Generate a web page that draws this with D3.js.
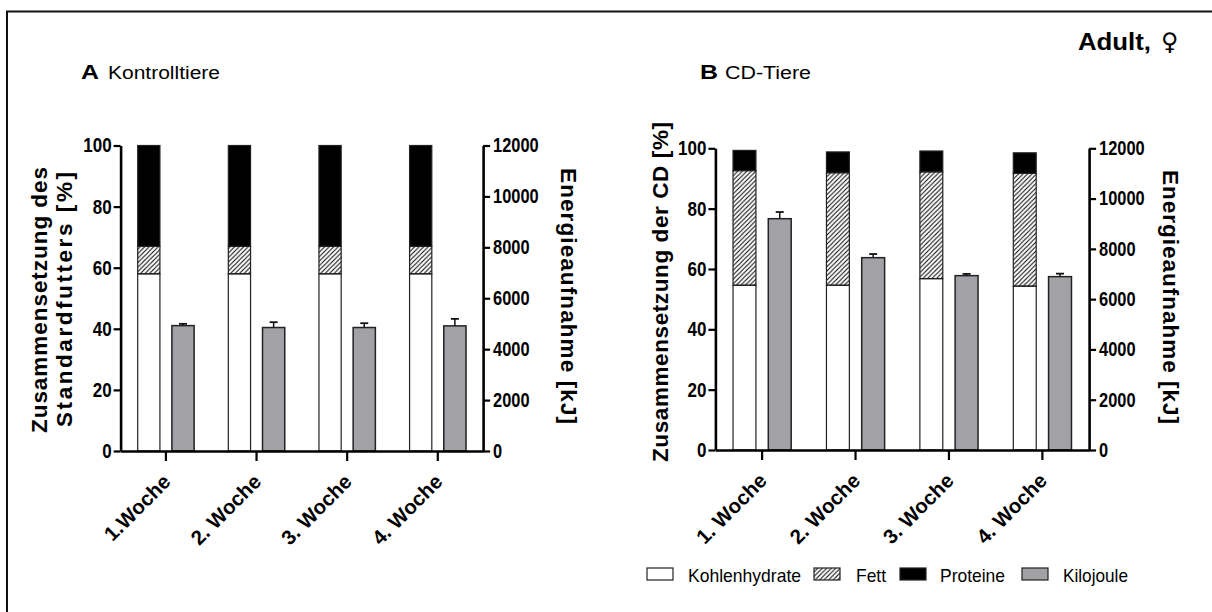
<!DOCTYPE html>
<html>
<head>
<meta charset="utf-8">
<script src="https://cdn.jsdelivr.net/npm/d3@7"></script>
<style>
  body { margin: 0; background: #fff; }
  text { font-family: "Liberation Sans", Arial, sans-serif; fill: #000; }
</style>
</head>
<body>
<svg id="chart" width="1212" height="612"></svg>
<script>
// ---- data ----
const weeksA = ["1.Woche", "2. Woche", "3. Woche", "4. Woche"];
const weeksB = ["1. Woche", "2. Woche", "3. Woche", "4. Woche"];

// diet composition [% of energy]
const carbsA   = [58, 58, 58, 58];
const fatA     = [9, 9, 9, 9];
const proteinA = [33, 33, 33, 33];
const carbsB   = [54.6, 54.6, 56.8, 54.3];
const fatB     = [38.0, 37.3, 35.4, 37.4];
const proteinB = [6.7, 6.9, 6.9, 6.8];

// energy intake [kJ], mean and SEM
const kjA    = [4925, 4850, 4850, 4915];
const kjErrA = [70, 210, 170, 275];
const kjB    = [9200, 7650, 6935, 6895];
const kjErrB = [265, 145, 70, 120];

const pctTicks = [0, 20, 40, 60, 80, 100];
const kjTicks  = [0, 2000, 4000, 6000, 8000, 10000, 12000];
const legendLabels = ["Kohlenhydrate", "Fett", "Proteine", "Kilojoule"];

// ---- drawing ----
const svg = d3.select("#chart");
const KJ_FILL = "#a2a2a6";

// diagonal hatching for the fat segment
const defs = svg.append("defs");
defs.append("pattern")
  .attr("id", "hatch")
  .attr("patternUnits", "userSpaceOnUse")
  .attr("width", 4.5).attr("height", 4.5)
  .append("path")
  .attr("d", "M-1,1 l2,-2 M0,4.5 l4.5,-4.5 M3.5,5.5 l2,-2")
  .attr("stroke", "#000").attr("stroke-width", 1);

// outer frame (top and left edge)
svg.append("path")
  .attr("d", "M7,612 V11.5 H1212")
  .attr("fill", "none").attr("stroke", "#111").attr("stroke-width", 2);

function fitText(sel, len, mode) {
  sel.attr("textLength", len).attr("lengthAdjust", mode || "spacingAndGlyphs");
}
function condense(sel, k) {
  sel.each(function () {
    const L = this.getComputedTextLength();
    this.setAttribute("textLength", L * k);
    this.setAttribute("lengthAdjust", "spacingAndGlyphs");
  });
}

function drawPanel(cfg, weeks, carbs, fat, protein, kj, kjErr) {
  const g = svg.append("g");
  const x = d3.scaleBand().domain(weeks).range([cfg.x0, cfg.x1]).padding(0);
  const sub = d3.scaleBand().domain(["comp", "kj"]).range([0, x.bandwidth()])
    .paddingInner(0.35).paddingOuter(0.5);
  const yPct = d3.scaleLinear().domain([0, 100]).range([cfg.yb, cfg.yt]);
  const yKj = d3.scaleLinear().domain([0, 12000]).range([cfg.yb, cfg.yt]);

  const rows = weeks.map((w, i) => ({ week: w, carbs: carbs[i], fat: fat[i], protein: protein[i] }));
  const stack = d3.stack().keys(["carbs", "fat", "protein"])(rows);
  const fills = { carbs: "#fff", fat: "url(#hatch)", protein: "#000" };

  stack.forEach(layer => {
    g.append("g").selectAll("rect").data(layer).join("rect")
      .attr("x", d => x(d.data.week) + sub("comp"))
      .attr("width", sub.bandwidth())
      .attr("y", d => yPct(d[1]))
      .attr("height", d => yPct(d[0]) - yPct(d[1]))
      .attr("fill", fills[layer.key])
      .attr("stroke", "#222").attr("stroke-width", 1.2);
  });

  // energy intake bars with upward SEM whiskers
  const kjG = g.append("g");
  kjG.selectAll("rect").data(weeks).join("rect")
    .attr("x", (w) => x(w) + sub("kj"))
    .attr("width", sub.bandwidth())
    .attr("y", (w, i) => yKj(kj[i]))
    .attr("height", (w, i) => yKj(0) - yKj(kj[i]))
    .attr("fill", KJ_FILL).attr("stroke", "#222").attr("stroke-width", 1.5);
  const cx = w => x(w) + sub("kj") + sub.bandwidth() / 2;
  kjG.selectAll("line.err").data(weeks).join("line")
    .attr("class", "err")
    .attr("x1", cx).attr("x2", cx)
    .attr("y1", (w, i) => yKj(kj[i])).attr("y2", (w, i) => yKj(kj[i] + kjErr[i]))
    .attr("stroke", "#111").attr("stroke-width", 1.5);
  kjG.selectAll("line.cap").data(weeks).join("line")
    .attr("class", "cap")
    .attr("x1", w => cx(w) - 4).attr("x2", w => cx(w) + 4)
    .attr("y1", (w, i) => yKj(kj[i] + kjErr[i])).attr("y2", (w, i) => yKj(kj[i] + kjErr[i]))
    .attr("stroke", "#111").attr("stroke-width", 1.8);

  // axes
  const styleAxis = a => {
    a.select(".domain").attr("stroke", "#000").attr("stroke-width", 2.6);
    a.selectAll(".tick line").attr("stroke", "#000").attr("stroke-width", 2.2);
    a.selectAll(".tick text").attr("font-size", 20).attr("font-weight", "bold")
      .attr("font-family", "'Liberation Sans', Arial, sans-serif");
  };
  const left = g.append("g").attr("transform", `translate(${cfg.x0},0)`)
    .call(d3.axisLeft(yPct).tickValues(pctTicks).tickFormat(d3.format("d"))
      .tickSize(7).tickSizeOuter(0).tickPadding(2));
  styleAxis(left);
  condense(left.selectAll(".tick text"), 0.85);

  const right = g.append("g").attr("transform", `translate(${cfg.x1},0)`)
    .call(d3.axisRight(yKj).tickValues(kjTicks).tickFormat(d3.format("d"))
      .tickSize(7).tickSizeOuter(0).tickPadding(3));
  styleAxis(right);
  condense(right.selectAll(".tick text"), 0.82);

  const bottom = g.append("g").attr("transform", `translate(0,${cfg.yb})`)
    .call(d3.axisBottom(x).tickSize(10).tickSizeOuter(0));
  styleAxis(bottom);
  bottom.selectAll(".tick text").remove();
  g.append("g").selectAll("text").data(weeks).join("text")
    .attr("transform", w => `translate(${x(w) + x.bandwidth() / 2 + 6},${cfg.yb + 32}) rotate(-45)`)
    .attr("text-anchor", "end")
    .attr("font-size", 20.5).attr("font-weight", "bold")
    .text(w => w);

  // panel heading
  const lt = g.append("text").attr("x", cfg.headX).attr("y", 79)
    .attr("font-size", 21).attr("font-weight", "bold").text(cfg.letter);
  fitText(lt, 18);
  const ht = g.append("text").attr("x", cfg.headX + cfg.headGap).attr("y", 79)
    .attr("font-size", 17.5).text(cfg.heading);
  fitText(ht, cfg.headLen);

  // axis titles
  cfg.leftTitles.forEach(t => {
    const el = g.append("text")
      .attr("transform", `translate(${t.x},${t.cy}) rotate(-90)`)
      .attr("text-anchor", "middle").attr("font-size", 22.5).attr("font-weight", "bold")
      .text(t.text);
    fitText(el, t.len, "spacing");
  });
  const rt = g.append("text")
    .attr("transform", `translate(${cfg.rightTitle.x},${cfg.rightTitle.cy}) rotate(90)`)
    .attr("text-anchor", "middle").attr("font-size", 22.5).attr("font-weight", "bold")
    .text("Energieaufnahme [kJ]");
  fitText(rt, cfg.rightTitle.len, "spacing");
}

drawPanel({
  x0: 120.6, x1: 483.1, yb: 451, yt: 145.5,
  letter: "A", heading: "Kontrolltiere", headX: 81, headGap: 27, headLen: 112,
  leftTitles: [
    { text: "Zusammensetzung des", x: 47, cy: 300, len: 266 },
    { text: "Standardfutters [%]", x: 72, cy: 299.5, len: 255 }
  ],
  rightTitle: { x: 561, cy: 296, len: 256 }
}, weeksA, carbsA, fatA, proteinA, kjA, kjErrA);

drawPanel({
  x0: 715.4, x1: 1089.1, yb: 450, yt: 148.3,
  letter: "B", heading: "CD-Tiere", headX: 700, headGap: 25, headLen: 86,
  leftTitles: [
    { text: "Zusammensetzung der CD [%]", x: 668, cy: 292, len: 340 }
  ],
  rightTitle: { x: 1163, cy: 297, len: 254 }
}, weeksB, carbsB, fatB, proteinB, kjB, kjErrB);

// figure label
const adult = svg.append("text").attr("x", 1078).attr("y", 50)
  .attr("font-size", 24).attr("font-weight", "bold").text("Adult,");
fitText(adult, 73);
svg.append("text").attr("x", 1161).attr("y", 50)
  .attr("font-size", 24).style("font-family", "'DejaVu Sans', sans-serif")
  .attr("fill", "#555").text("\u2640");

// legend
const legendLayout = [
  { bx: 647, tx: 688, tlen: 113 },
  { bx: 814, tx: 856, tlen: 30 },
  { bx: 900, tx: 940, tlen: 65 },
  { bx: 1022, tx: 1063, tlen: 65 }
];
const legendFills = ["#fff", "url(#hatch)", "#000", KJ_FILL];
const lg = svg.append("g");
legendLabels.forEach((lab, i) => {
  const L = legendLayout[i];
  lg.append("rect").attr("x", L.bx).attr("y", 568).attr("width", 26).attr("height", 12)
    .attr("fill", legendFills[i]).attr("stroke", "#222").attr("stroke-width", 1.2);
  const t = lg.append("text").attr("x", L.tx).attr("y", 582).attr("font-size", 19).text(lab);
  fitText(t, L.tlen);
});
</script>
</body>
</html>
